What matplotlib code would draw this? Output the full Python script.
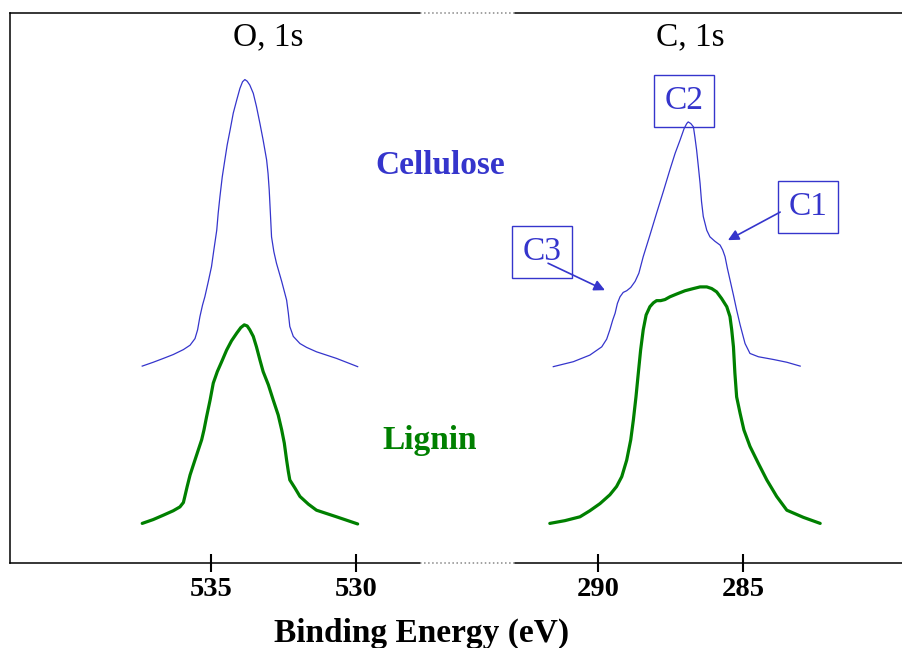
import numpy as np
import matplotlib
matplotlib.use("Agg")
import matplotlib.pyplot as plt
from matplotlib.lines import Line2D

plt.rcParams['font.family'] = ['Liberation Serif', 'DejaVu Serif']

# O 1s region: binding energy (eV) and intensity (arb. units, offset)
o1s_be = [537.37, 536.99, 536.64, 536.30, 535.95, 535.72, 535.55, 535.46, 535.38,
          535.29, 535.21, 535.09, 534.98, 534.90, 534.80, 534.75, 534.69, 534.61,
          534.52, 534.44, 534.34, 534.23, 534.11, 534.00, 533.91, 533.83, 533.75,
          533.66, 533.54, 533.43, 533.31, 533.20, 533.08, 533.03, 532.99, 532.95,
          532.91, 532.83, 532.74, 532.56, 532.39, 532.33, 532.28, 532.16, 531.93,
          531.70, 531.36, 530.67, 529.94]
o1s_cellulose = [35.8, 36.5, 37.2, 37.9, 38.8, 39.6, 40.8, 42.4, 44.8,
                 46.9, 48.4, 51.2, 53.9, 56.9, 60.5, 63.6, 66.6, 70.2,
                 73.3, 76.0, 78.7, 81.8, 84.2, 86.3, 87.5, 87.9, 87.6,
                 86.9, 85.4, 83.0, 79.9, 76.9, 73.3, 70.8, 67.8, 63.6,
                 59.3, 56.6, 54.5, 51.2, 47.8, 45.4, 43.0, 41.2, 39.9,
                 39.2, 38.4, 37.2, 35.7]

o1s_lig_be = [537.37, 536.99, 536.64, 536.30, 536.07, 535.95, 535.90, 535.82, 535.72,
              535.59, 535.44, 535.32, 535.24, 535.15, 535.03, 534.92, 534.78, 534.63,
              534.46, 534.29, 534.11, 533.97, 533.85, 533.75, 533.66, 533.54, 533.43,
              533.31, 533.20, 533.02, 532.85, 532.68, 532.56, 532.47, 532.39, 532.33,
              532.28, 532.10, 531.93, 531.64, 531.36, 530.67, 529.94]
o1s_lignin = [7.2, 7.9, 8.7, 9.5, 10.2, 11.0, 12.1, 13.9, 16.0,
              18.1, 20.5, 22.4, 24.2, 26.6, 29.6, 32.7, 34.8, 36.6,
              38.7, 40.4, 41.8, 42.8, 43.3, 43.1, 42.4, 41.2, 39.3,
              36.9, 34.8, 32.4, 29.6, 26.9, 24.2, 21.8, 18.7, 16.6,
              15.1, 13.6, 12.1, 10.7, 9.6, 8.4, 7.1]

# C 1s region
c1s_be = [291.54, 290.85, 290.28, 289.87, 289.70, 289.59, 289.49, 289.41, 289.33,
          289.24, 289.13, 289.01, 288.87, 288.72, 288.59, 288.44, 288.21, 287.98,
          287.75, 287.52, 287.34, 287.17, 287.03, 286.94, 286.89, 286.80, 286.71,
          286.66, 286.60, 286.54, 286.48, 286.43, 286.37, 286.25, 286.14, 285.97,
          285.79, 285.70, 285.62, 285.54, 285.45, 285.33, 285.22, 285.10, 284.93,
          284.76, 284.47, 283.95, 283.49, 283.03]
c1s_cellulose = [35.7, 36.6, 37.8, 39.3, 40.7, 42.4, 44.2, 45.4, 47.2,
                 48.4, 49.2, 49.5, 50.1, 51.2, 52.7, 55.7, 59.6, 63.6,
                 67.5, 71.5, 74.5, 76.9, 79.0, 79.9, 80.2, 79.9, 79.3,
                 77.5, 75.1, 72.1, 69.0, 65.7, 63.0, 60.5, 59.3, 58.5,
                 57.8, 56.9, 55.7, 53.6, 51.5, 48.7, 46.0, 43.3, 39.9,
                 38.1, 37.5, 37.0, 36.5, 35.8]

c1s_lig_be = [291.66, 291.14, 290.62, 290.28, 289.93, 289.59, 289.36, 289.18, 289.01,
              288.87, 288.78, 288.69, 288.61, 288.53, 288.44, 288.34, 288.21, 288.09,
              287.98, 287.84, 287.69, 287.52, 287.29, 287.00, 286.71, 286.48, 286.25,
              286.08, 285.91, 285.74, 285.56, 285.45, 285.39, 285.33, 285.28, 285.22,
              285.10, 284.97, 284.76, 284.47, 284.18, 283.84, 283.49, 282.92, 282.34]
c1s_lignin = [7.2, 7.7, 8.4, 9.5, 10.8, 12.4, 13.9, 15.7, 18.7,
              22.4, 26.0, 30.2, 34.5, 38.7, 42.4, 45.1, 46.6, 47.3,
              47.7, 47.7, 47.9, 48.4, 48.9, 49.5, 49.9, 50.2, 50.2,
              49.9, 49.3, 48.1, 46.6, 44.8, 42.4, 39.3, 34.5, 30.2,
              27.2, 24.2, 21.2, 18.1, 15.1, 12.1, 9.6, 8.3, 7.2]

# component labels: (text, label position, arrow tail, arrow head)
peak_labels = ["C2", "C1", "C3"]
label_pos = [(287.03, 84.0), (282.76, 64.7), (291.93, 56.5)]
arrow_tail = [None, (283.72, 63.8), (291.72, 54.5)]
arrow_head = [None, (285.52, 58.7), (289.76, 49.6)]

blue = '#3535cc'
green = '#008000'

fig = plt.figure(figsize=(9.02, 6.48), dpi=100)
ax1 = fig.add_axes([10/902, 85/648, 410/902, 550/648])
ax2 = fig.add_axes([515/902, 85/648, 387/902, 550/648])

thin = dict(color=blue, lw=0.9, solid_joinstyle='round')
thick = dict(color=green, lw=2.3, solid_joinstyle='round', solid_capstyle='round')
ax1.plot(o1s_be, o1s_cellulose, **thin)
ax1.plot(o1s_lig_be, o1s_lignin, **thick)
ax2.plot(c1s_be, c1s_cellulose, **thin)
ax2.plot(c1s_lig_be, c1s_lignin, **thick)

ax1.set_xlim(541.93, 527.79)
ax2.set_xlim(292.86, 279.52)
ax1.set_xticks([535, 530])
ax2.set_xticks([290, 285])

for ax in (ax1, ax2):
    ax.set_ylim(0, 100)
    ax.set_yticks([])
    ax.spines['right'].set_visible(False)
    for s in ax.spines.values():
        s.set_linewidth(1.1)
    ax.tick_params(axis='x', direction='inout', length=12.5, width=1.5, pad=4)
    for lab in ax.get_xticklabels():
        lab.set_fontsize(20.5)
        lab.set_fontweight('bold')
ax2.spines['left'].set_visible(False)

# dotted break between the two panels
for yy in (85/648, 635/648):
    fig.add_artist(Line2D([420/902, 515/902], [yy, yy], transform=fig.transFigure,
                          color='#888888', lw=1.1, ls=':'))

for txt, pos, tail, head in zip(peak_labels, label_pos, arrow_tail, arrow_head):
    ax2.text(pos[0], pos[1], txt, color=blue, fontsize=24, ha='center', va='center',
             bbox=dict(boxstyle='square,pad=0.32', fc='none', ec=blue, lw=1.0))
    if tail is not None:
        ax2.annotate("", xy=head, xytext=tail,
                     arrowprops=dict(arrowstyle='-|>', color=blue, lw=1.2,
                                     mutation_scale=16, shrinkA=0, shrinkB=0))

fig.text(268/902, 1 - 37/648, "O, 1s", fontsize=24, ha='center', va='center')
fig.text(690/902, 1 - 37/648, "C, 1s", fontsize=24, ha='center', va='center')
fig.text(440/902, 1 - 165/648, "Cellulose", fontsize=24, fontweight='bold',
         color=blue, ha='center', va='center')
fig.text(430/902, 1 - 440/648, "Lignin", fontsize=24, fontweight='bold',
         color=green, ha='center', va='center')
fig.text(422/902, 1 - 633/648, "Binding Energy (eV)", fontsize=24, fontweight='bold',
         ha='center', va='center')

fig.savefig("out.png", dpi=100)
